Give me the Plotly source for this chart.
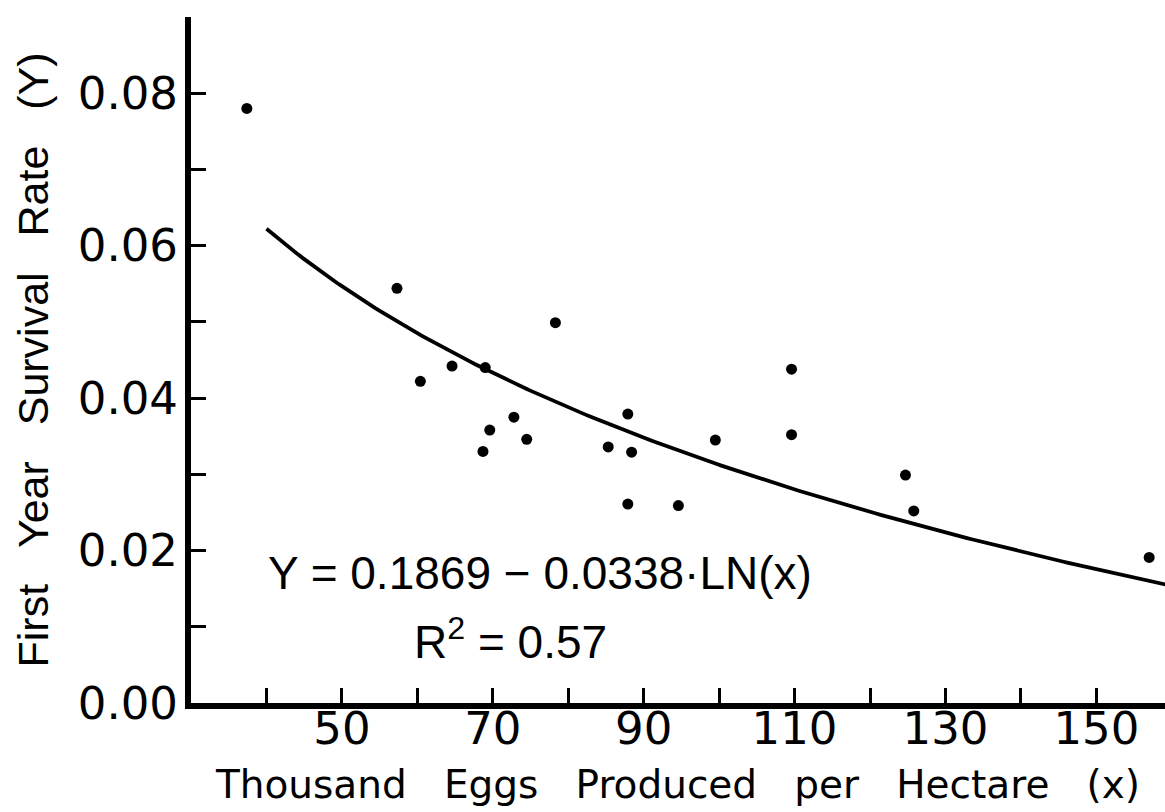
import numpy as np
import plotly.graph_objects as go

# ---- data ----
eggs_thousand_per_ha = [37.4, 57.3, 60.4, 64.6, 69.0, 68.7, 69.6, 72.8, 74.5, 78.3,
                        85.3, 87.9, 88.4, 87.9, 94.6, 99.5, 109.6, 109.6, 124.7, 125.8, 157.0]
survival_rate = [0.0780, 0.0544, 0.0422, 0.0442, 0.0440, 0.0330, 0.0358, 0.0375, 0.0346, 0.0499,
                 0.0336, 0.0379, 0.0329, 0.0261, 0.0259, 0.0345, 0.0438, 0.0352, 0.0299, 0.0252, 0.0191]

# fitted regression given on the chart: Y = a - b * ln(x)
fit_intercept = 0.1869
fit_slope = 0.0338
fit_x_start = 40.0
fit_x_end = 160.0

x_major_ticks = [50, 70, 90, 110, 130, 150]
x_major_labels = ["50", "70", "90", "110", "130", "150"]
x_minor_ticks = [40, 60, 80, 100, 120, 140]
y_major_ticks = [0.00, 0.02, 0.04, 0.06, 0.08]
y_major_labels = ["0.00", "0.02", "0.04", "0.06", "0.08"]
y_minor_ticks = [0.01, 0.03, 0.05, 0.07, 0.09]

equation_text = "Y = 0.1869 \u2212 0.0338\u00b7LN(x)"
r2_text = "R<sup>2</sup> = 0.57"
x_title = "Thousand&nbsp;&nbsp;&nbsp;Eggs&nbsp;&nbsp;&nbsp;Produced&nbsp;&nbsp;&nbsp;per&nbsp;&nbsp;&nbsp;Hectare&nbsp;&nbsp;&nbsp;(x)"
y_title = "First&nbsp;&nbsp;&nbsp;Year&nbsp;&nbsp;&nbsp;Survival&nbsp;&nbsp;&nbsp;Rate&nbsp;&nbsp;&nbsp;(Y)"

fit_x = np.linspace(fit_x_start, fit_x_end, 200)
fit_y = fit_intercept - fit_slope * np.log(fit_x)

fig = go.Figure()
fig.add_trace(go.Scatter(x=fit_x, y=fit_y, mode="lines",
                         line=dict(color="black", width=3.8), showlegend=False,
                         hoverinfo="skip"))
fig.add_trace(go.Scatter(x=eggs_thousand_per_ha, y=survival_rate, mode="markers",
                         marker=dict(color="black", size=11), showlegend=False))

tick_style = dict(ticks="inside", ticklen=15, tickwidth=3, tickcolor="black")

fig.update_layout(
    width=1165, height=812,
    margin=dict(l=191, r=0, t=17, b=109),
    paper_bgcolor="white", plot_bgcolor="white",
    showlegend=False,
    xaxis=dict(range=[30, 159.1], showgrid=False, zeroline=False,
               showline=True, linewidth=6, linecolor="black",
               tickmode="array", tickvals=x_major_ticks, ticktext=x_major_labels,
               minor=dict(tickvals=x_minor_ticks, showgrid=False, **tick_style),
               tickfont=dict(family="DejaVu Sans", size=45, color="black"),
               ticklabelstandoff=-19,
               title=dict(text=x_title, standoff=19,
                          font=dict(family="DejaVu Sans", size=39, color="black")),
               **tick_style),
    yaxis=dict(range=[0, 0.09], showgrid=False, zeroline=False,
               showline=True, linewidth=6, linecolor="black",
               tickmode="array", tickvals=y_major_ticks, ticktext=y_major_labels,
               minor=dict(tickvals=y_minor_ticks, showgrid=False, **tick_style),
               tickfont=dict(family="DejaVu Sans", size=45, color="black"),
               ticklabelstandoff=-2,
               title=dict(text=y_title, standoff=18,
                          font=dict(family="Liberation Sans", size=43, color="black")),
               **tick_style),
    annotations=[
        dict(text=equation_text, xref="paper", yref="paper", x=0.358, y=0.1895,
             xanchor="center", yanchor="middle", showarrow=False,
             font=dict(family="Liberation Sans", size=46, color="black")),
        dict(text=r2_text, xref="paper", yref="paper", x=0.3285, y=0.0933,
             xanchor="center", yanchor="middle", showarrow=False,
             font=dict(family="Liberation Sans", size=46, color="black")),
    ],
)

fig.write_html("out.html")
